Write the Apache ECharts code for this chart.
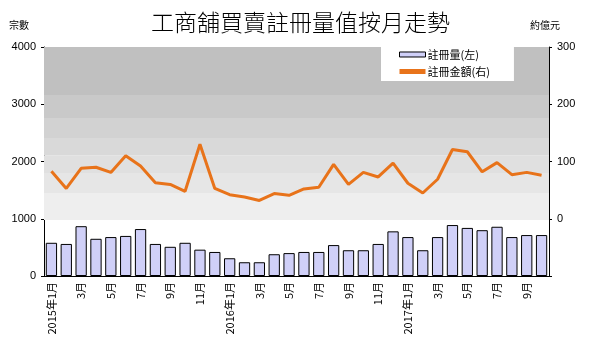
<!DOCTYPE html>
<html>
<head>
<meta charset="utf-8">
<script src="https://cdn.jsdelivr.net/npm/echarts@6/dist/echarts.min.js"></script>
<style>
  html, body { margin: 0; padding: 0; background: #fff; }
  #chart { width: 601px; height: 355px; }
</style>
</head>
<body>
<div id="chart"></div>
<script>
// 月份 2015年1月 - 2017年10月
const years = [2015, 2016, 2017]
const months = []
years.forEach(y => {
  for (let m = 1; m <= 12; m++) {
    if (y === 2017 && m > 10) break
    months.push(y + '-' + m)
  }
})

// 註冊量 (宗數, 左軸)
const regCount = [580, 560, 870, 650, 680, 700, 820, 560, 510, 580, 460, 420,
  310, 240, 240, 380, 400, 420, 420, 540, 450, 450, 560, 780,
  680, 450, 680, 890, 840, 800, 860, 680, 715, 715]

// 註冊金額 (約億元, 右軸)
const regValue = [83, 53, 88, 90, 81, 110, 92, 63, 60, 48, 130, 53,
  42, 38, 32, 44, 41, 52, 55, 95, 60, 81, 73, 97,
  62, 45, 69, 121, 117, 82, 98, 77, 81, 76]

// 背景灰階 (左軸數值)
const bandEdges = [4000, 3160, 2760, 2410, 2110, 1800, 1450, 980]
const bandColors = ['#c0c0c0', '#c9c9c9', '#d2d2d2', '#d9d9d9', '#e0e0e0', '#e6e6e6', '#eeeeee']

const chart = echarts.init(document.getElementById('chart'))

const bands = bandColors.map((c, i) => [
  { yAxis: bandEdges[i], itemStyle: { color: c } },
  { yAxis: bandEdges[i + 1] }
])

const option = {
  animation: false,
  textStyle: { fontFamily: 'Arial, "Liberation Sans", "Noto Sans CJK TC"' },
  title: {
    text: '工商舖買賣註冊量值按月走勢',
    left: 'center',
    top: 6,
    textStyle: { fontFamily: '"Noto Sans CJK TC"', fontSize: 23, fontWeight: 300, color: '#000' }
  },
  graphic: [
    { type: 'text', left: 9, top: 20, style: { text: '宗數', font: '10px "Noto Sans CJK TC"', fill: '#000' } },
    { type: 'text', left: 530, top: 20, style: { text: '約億元', font: '10px "Noto Sans CJK TC"', fill: '#000' } }
  ],
  legend: {
    orient: 'vertical',
    left: 381,
    top: 47,
    backgroundColor: '#fff',
    padding: [2, 24, 4, 18],
    itemGap: 6,
    itemWidth: 26,
    itemHeight: 5,
    textStyle: { fontSize: 11, color: '#000', fontFamily: '"Noto Sans CJK TC"', padding: [0, 0, 0, -3] },
    data: [
      { name: '註冊量(左)', icon: 'rect', itemStyle: { color: '#d0d0f8', borderColor: '#000', borderWidth: 1 } },
      { name: '註冊金額(右)', icon: 'rect', itemStyle: { color: '#e8731a' } }
    ]
  },
  grid: { left: 44, right: 52, top: 47, bottom: 79 },
  xAxis: {
    type: 'category',
    data: months,
    boundaryGap: true,
    axisLine: { lineStyle: { color: '#000', width: 1 } },
    axisTick: { inside: true, length: 3, interval: 0, lineStyle: { color: '#000' } },
    axisLabel: {
      interval: 1,
      rotate: 90,
      fontSize: 11,
      color: '#000',
      margin: 6,
      fontFamily: '"Noto Sans CJK TC"',
      formatter: v => {
        const [y, m] = v.split('-')
        return m === '1' ? y + '年1月' : m + '月'
      }
    }
  },
  yAxis: [
    {
      type: 'value',
      min: 0, max: 4000, interval: 1000,
      axisLine: { show: true, lineStyle: { color: '#000' } },
      axisTick: { show: true, length: 3, lineStyle: { color: '#000' } },
      axisLabel: { fontSize: 11, color: '#000', margin: 8, formatter: v => String(v) },
      splitLine: { show: false }
    },
    {
      type: 'value',
      min: -100, max: 300, interval: 100,
      axisLine: { show: true, lineStyle: { color: '#000' } },
      axisTick: { show: true, length: 3, lineStyle: { color: '#000' } },
      axisLabel: { fontSize: 11, color: '#000', margin: 8, formatter: v => v < 0 ? '' : String(v) },
      splitLine: { show: false }
    }
  ],
  series: [
    {
      name: '註冊量(左)',
      type: 'bar',
      yAxisIndex: 0,
      data: regCount,
      barCategoryGap: '24%',
      itemStyle: { color: '#d0d0f8', borderColor: '#000', borderWidth: 1 },
      markArea: { silent: true, data: bands },
      z: 2
    },
    {
      name: '註冊金額(右)',
      type: 'line',
      yAxisIndex: 1,
      data: regValue,
      showSymbol: false,
      lineStyle: { color: '#e8731a', width: 3 },
      itemStyle: { color: '#e8731a' },
      z: 3
    }
  ]
}

chart.setOption(option)
</script>
</body>
</html>
